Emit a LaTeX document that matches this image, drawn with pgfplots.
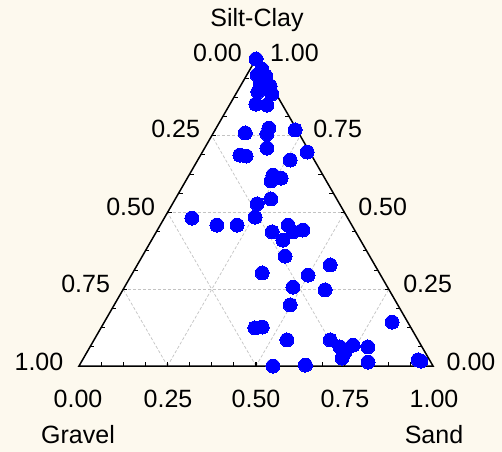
\documentclass[border=0pt]{standalone}
\usepackage{fontspec}
\setmainfont{Liberation Sans}
\usepackage{pgfplots}
\usepackage{pgfplotstable}
\pgfplotsset{compat=1.18}
\definecolor{bgcream}{RGB}{253,249,238}
\definecolor{gridgray}{RGB}{195,195,195}
\pgfplotstableread{
sand silt gravel
0.000 1.000 0.000
0.033 0.967 0.000
0.029 0.948 0.023
0.055 0.945 0.000
0.052 0.919 0.029
0.084 0.912 0.004
0.059 0.893 0.048
0.102 0.886 0.012
0.073 0.853 0.074
0.106 0.850 0.044
0.090 0.759 0.151
0.149 0.775 0.076
0.153 0.756 0.091
0.226 0.769 0.005
0.176 0.710 0.114
0.296 0.697 0.007
0.111 0.687 0.202
0.130 0.684 0.186
0.261 0.671 0.068
0.237 0.622 0.141
0.265 0.612 0.123
0.241 0.603 0.156
0.239 0.528 0.233
0.270 0.544 0.186
0.255 0.485 0.260
0.078 0.482 0.440
0.160 0.459 0.381
0.217 0.459 0.324
0.327 0.437 0.236
0.361 0.459 0.180
0.386 0.437 0.177
0.411 0.443 0.146
0.371 0.410 0.219
0.403 0.358 0.239
0.366 0.303 0.331
0.545 0.329 0.126
0.499 0.296 0.205
0.476 0.257 0.267
0.571 0.248 0.181
0.497 0.199 0.304
0.813 0.143 0.044
0.435 0.124 0.441
0.454 0.127 0.419
0.545 0.085 0.370
0.667 0.085 0.248
0.706 0.062 0.232
0.740 0.068 0.192
0.729 0.046 0.225
0.730 0.026 0.244
0.785 0.062 0.153
0.810 0.013 0.177
0.948 0.020 0.032
0.548 0.000 0.452
0.638 0.003 0.359
0.958 0.016 0.026
}\samples
\begin{document}
\fontsize{25bp}{30bp}\selectfont
\begin{tikzpicture}[lab/.style={font=\fontsize{25bp}{30bp}\selectfont, inner sep=0pt, outer sep=0pt}]
\begin{axis}[
  at={(0,0)}, anchor=south west,
  width=502bp, height=452bp, scale only axis,
  xmin=0, xmax=502, ymin=0, ymax=452, y dir=reverse,
  hide axis, clip=false,
]
\fill[bgcream] (axis cs:0,0) rectangle (axis cs:502,452);
\fill[white] (axis cs:79,366) -- (axis cs:433,366) -- (axis cs:256,59) -- cycle;
% grid lines
\begin{scope}[gridgray, line width=0.7bp, dash pattern=on 3bp off 2bp]
\draw (axis cs:123.25,289.25) -- (axis cs:388.75,289.25);
\draw (axis cs:167.5,212.5) -- (axis cs:344.5,212.5);
\draw (axis cs:211.75,135.75) -- (axis cs:300.25,135.75);
\draw (axis cs:167.5,366) -- (axis cs:300.25,135.75);
\draw (axis cs:256,366) -- (axis cs:344.5,212.5);
\draw (axis cs:344.5,366) -- (axis cs:388.75,289.25);
\draw (axis cs:344.5,366) -- (axis cs:211.75,135.75);
\draw (axis cs:256,366) -- (axis cs:167.5,212.5);
\draw (axis cs:167.5,366) -- (axis cs:123.25,289.25);
\end{scope}
\addplot[only marks, mark=*, mark size=7bp, color=blue, mark options={draw=blue, fill=blue, line width=0pt}]
  table[x expr={79+354*(\thisrow{sand}+0.5*\thisrow{silt})}, y expr={366-307*\thisrow{silt}}] {\samples};
\draw[black, line width=1.5bp, line join=miter] (axis cs:79,366) -- (axis cs:433,366) -- (axis cs:256,59) -- cycle;
\pgfplotsinvokeforeach{1,...,15}{
  \draw[black, line width=1.1bp] (axis cs:{79+22.125*#1},366) -- (axis cs:{79+22.125*#1},362);
  \draw[black, line width=1.1bp] (axis cs:{79+11.0625*#1},{366-19.1875*#1}) -- (axis cs:{83+11.0625*#1},{366-19.1875*#1});
  \draw[black, line width=1.1bp] (axis cs:{433-11.0625*#1},{366-19.1875*#1}) -- (axis cs:{429-11.0625*#1},{366-19.1875*#1});
}
% left labels (Gravel)
\node[lab, anchor=base east] at (axis cs:63.3,370.5) {1.00};
\node[lab, anchor=base east] at (axis cs:110,292) {0.75};
\node[lab, anchor=base east] at (axis cs:155,215) {0.50};
\node[lab, anchor=base east] at (axis cs:200,137) {0.25};
\node[lab, anchor=base east] at (axis cs:241.7,61.5) {0.00};
% right labels (Silt-Clay)
\node[lab, anchor=base west] at (axis cs:446.7,370.5) {0.00};
\node[lab, anchor=base west] at (axis cs:403.3,292) {0.25};
\node[lab, anchor=base west] at (axis cs:358.3,215) {0.50};
\node[lab, anchor=base west] at (axis cs:313.3,137) {0.75};
\node[lab, anchor=base west] at (axis cs:270,61.5) {1.00};
% bottom labels (Sand)
\node[lab, anchor=base] at (axis cs:78,407) {0.00};
\node[lab, anchor=base] at (axis cs:168,407) {0.25};
\node[lab, anchor=base] at (axis cs:256,407) {0.50};
\node[lab, anchor=base] at (axis cs:345,407) {0.75};
\node[lab, anchor=base] at (axis cs:434,407) {1.00};
% corner names
\node[lab, anchor=base] at (axis cs:78,443) {Gravel};
\node[lab, anchor=base] at (axis cs:434,443) {Sand};
\node[lab, anchor=base] at (axis cs:257,27) {Silt-Clay};
\end{axis}
\end{tikzpicture}
\end{document}
